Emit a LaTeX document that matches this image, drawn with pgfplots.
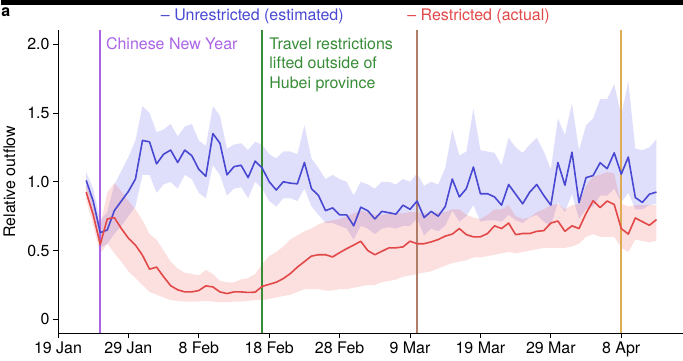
\documentclass[border=0pt]{standalone}
\usepackage{fontspec}
\setmainfont{TeX Gyre Heros}
\usepackage{pgfplots}
\pgfplotsset{compat=1.18}
\usepackage{pgfplotstable}
\usepgfplotslibrary{fillbetween}
\definecolor{ublue}{RGB}{72,72,210}
\definecolor{rred}{RGB}{226,72,72}
\definecolor{ubandc}{RGB}{110,110,235}
\definecolor{rbandc}{RGB}{242,95,95}
\definecolor{cnyc}{RGB}{170,100,230}
\definecolor{travelgreen}{RGB}{56,140,56}
\definecolor{brownc}{RGB}{176,126,104}
\definecolor{orangec}{RGB}{222,172,82}
\newcommand\fs{\fontsize{16}{19}\selectfont}

\pgfplotstableread{
d m lo hi
4 1.01 0.95 1.07
5 0.86 0.76 0.95
6 0.63 0.52 0.72
7 0.65 0.55 0.78
8 0.79 0.62 0.98
9 0.86 0.68 1.08
10 0.93 0.75 1.18
11 1.02 0.82 1.30
12 1.30 1.05 1.55
13 1.29 1.05 1.50
14 1.13 0.92 1.36
15 1.20 0.98 1.38
16 1.23 1.00 1.42
17 1.14 0.95 1.33
18 1.23 1.05 1.40
19 1.19 1.02 1.42
20 1.09 0.92 1.30
21 1.04 0.88 1.26
22 1.35 1.12 1.55
23 1.28 1.05 1.48
24 1.05 0.90 1.24
25 1.11 0.95 1.27
26 1.12 0.96 1.28
27 1.03 0.88 1.23
28 1.15 1.00 1.29
29 1.10 0.95 1.27
30 1.00 0.86 1.20
31 0.94 0.82 1.17
32 1.00 0.88 1.22
33 0.99 0.88 1.22
34 0.985 0.86 1.20
35 1.14 0.95 1.41
36 0.95 0.82 1.17
37 0.90 0.76 1.10
38 0.79 0.70 1.02
39 0.81 0.70 1.05
40 0.76 0.68 1.02
41 0.76 0.66 1.00
42 0.68 0.58 0.90
43 0.815 0.68 1.00
44 0.79 0.66 0.98
45 0.73 0.62 0.95
46 0.785 0.66 1.00
47 0.775 0.67 1.00
48 0.765 0.66 0.98
49 0.83 0.68 1.02
50 0.80 0.68 1.00
51 0.86 0.73 1.06
52 0.74 0.61 0.97
53 0.785 0.66 1.00
54 0.75 0.64 0.98
55 0.82 0.68 1.10
56 1.02 0.79 1.38
57 0.89 0.71 1.19
58 0.95 0.75 1.22
59 1.107 0.83 1.53
60 0.913 0.71 1.23
61 0.913 0.72 1.22
62 0.89 0.72 1.21
63 0.83 0.71 1.12
64 0.98 0.76 1.32
65 0.91 0.72 1.25
66 0.84 0.70 1.21
67 0.925 0.74 1.27
68 0.98 0.76 1.32
69 0.90 0.71 1.22
70 0.83 0.68 1.09
71 1.14 0.85 1.46
72 0.975 0.78 1.34
73 1.215 0.91 1.57
74 0.848 0.73 1.23
75 1.03 0.80 1.41
76 1.045 0.82 1.46
77 1.138 0.90 1.60
78 1.095 0.90 1.60
79 1.21 0.95 1.71
80 1.055 0.85 1.48
81 1.18 0.92 1.73
82 0.885 0.80 1.24
83 0.85 0.80 1.23
84 0.91 0.83 1.25
85 0.925 0.84 1.31
}\ublue

\pgfplotstableread{
d m lo hi
4 0.925 0.87 0.98
5 0.76 0.68 0.85
6 0.545 0.48 0.68
7 0.73 0.55 0.92
8 0.74 0.48 0.99
9 0.66 0.42 0.93
10 0.59 0.35 0.86
11 0.54 0.30 0.80
12 0.466 0.25 0.72
13 0.365 0.20 0.62
14 0.38 0.18 0.58
15 0.31 0.16 0.50
16 0.245 0.14 0.42
17 0.215 0.135 0.37
18 0.20 0.13 0.34
19 0.20 0.13 0.33
20 0.21 0.13 0.32
21 0.244 0.135 0.36
22 0.236 0.13 0.33
23 0.20 0.125 0.28
24 0.188 0.125 0.27
25 0.20 0.13 0.27
26 0.20 0.13 0.29
27 0.196 0.135 0.30
28 0.198 0.14 0.33
29 0.24 0.14 0.40
30 0.255 0.15 0.46
31 0.27 0.16 0.49
32 0.297 0.17 0.53
33 0.333 0.18 0.58
34 0.38 0.20 0.61
35 0.42 0.22 0.64
36 0.46 0.22 0.66
37 0.47 0.22 0.69
38 0.47 0.21 0.71
39 0.454 0.21 0.72
40 0.485 0.22 0.73
41 0.514 0.22 0.75
42 0.54 0.23 0.77
43 0.568 0.24 0.79
44 0.50 0.25 0.78
45 0.47 0.25 0.76
46 0.495 0.27 0.76
47 0.52 0.28 0.77
48 0.52 0.29 0.77
49 0.527 0.31 0.77
50 0.568 0.32 0.78
51 0.55 0.33 0.78
52 0.55 0.34 0.77
53 0.563 0.35 0.77
54 0.58 0.37 0.78
55 0.605 0.39 0.78
56 0.62 0.41 0.80
57 0.66 0.42 0.80
58 0.616 0.43 0.76
59 0.60 0.45 0.74
60 0.60 0.45 0.73
61 0.624 0.46 0.76
62 0.68 0.47 0.80
63 0.66 0.48 0.80
64 0.70 0.49 0.83
65 0.616 0.48 0.75
66 0.624 0.49 0.73
67 0.624 0.50 0.74
68 0.64 0.51 0.78
69 0.645 0.52 0.80
70 0.70 0.52 0.83
71 0.715 0.52 0.84
72 0.64 0.52 0.80
73 0.68 0.53 0.83
74 0.66 0.55 0.84
75 0.77 0.60 0.97
76 0.862 0.62 1.04
77 0.813 0.60 1.05
78 0.86 0.60 1.07
79 0.835 0.60 1.06
80 0.66 0.52 0.84
81 0.62 0.49 0.82
82 0.737 0.58 0.83
83 0.71 0.57 0.83
84 0.684 0.56 0.83
85 0.725 0.57 0.83
}\rred

\begin{document}
\begin{tikzpicture}[font=\fs]
\path (0,0) rectangle (683pt,358pt);
\fill[black] (0,353pt) rectangle (683pt,358pt);
\node[anchor=west, inner sep=0, font=\fs\bfseries] at (0pt,346pt) {a};
\node[anchor=west, inner sep=0, text=ublue] at (160pt,342pt) {– Unrestricted (estimated)};
\node[anchor=west, inner sep=0, text=rred] at (407pt,342pt) {– Restricted (actual)};
\begin{axis}[
  at={(57pt,24pt)}, anchor=south west,
  scale only axis, width=626pt, height=303.6pt,
  xmin=0, xmax=88.7, ymin=-0.1, ymax=2.1,
  axis x line*=bottom, axis y line*=left,
  axis line style={line width=1pt, black},
  xtick={0,10,20,30,40,50,60,70,80},
  xticklabels={19 Jan,29 Jan,8 Feb,18 Feb,28 Feb,9 Mar,19 Mar,29 Mar,8 Apr},
  ytick={0,0.5,1,1.5,2},
  yticklabels={0,0.5,1.0,1.5,2.0},
  tick align=outside, major tick length=5pt,
  tick style={black, line width=0.8pt},
  ticklabel style={font=\fs},
  /pgf/number format/assume math mode=true,
  ylabel={Relative outflow},
  every axis y label/.style={at={(axis description cs:-0.078,0.5)}, rotate=90, anchor=center, font=\fs},
  clip=false,
]
\addplot[name path=bhi, draw=none, forget plot] table[x=d,y=hi]{\ublue};
\addplot[name path=blo, draw=none, forget plot] table[x=d,y=lo]{\ublue};
\addplot[fill=ubandc, fill opacity=0.22, draw=none, forget plot] fill between[of=bhi and blo];
\addplot[name path=rhi, draw=none, forget plot] table[x=d,y=hi]{\rred};
\addplot[name path=rlo, draw=none, forget plot] table[x=d,y=lo]{\rred};
\addplot[fill=rbandc, fill opacity=0.2, draw=none, forget plot] fill between[of=rhi and rlo];

\addplot[color=cnyc, line width=1.8pt, forget plot] coordinates {(6,-0.1) (6,2.1)};
\addplot[color=travelgreen, line width=1.5pt, forget plot] coordinates {(29,-0.1) (29,2.1)};
\addplot[color=brownc, line width=1.8pt, forget plot] coordinates {(51,-0.1) (51,2.1)};
\addplot[color=orangec, line width=2.2pt, forget plot] coordinates {(80,-0.1) (80,2.1)};

\addplot[ublue, line width=1.6pt, line join=round] table[x=d,y=m]{\ublue};
\addplot[rred, line width=1.6pt, line join=round] table[x=d,y=m]{\rred};

\node[anchor=west, inner sep=0, text=cnyc] at (axis cs:6.8,2.0) {Chinese New Year};
\node[anchor=north west, inner sep=0, text=travelgreen, align=left, font=\fontsize{16}{20}\selectfont] at (axis cs:30.0,2.05) {Travel restrictions\\lifted outside of\\Hubei province};
\end{axis}
\end{tikzpicture}
\end{document}
